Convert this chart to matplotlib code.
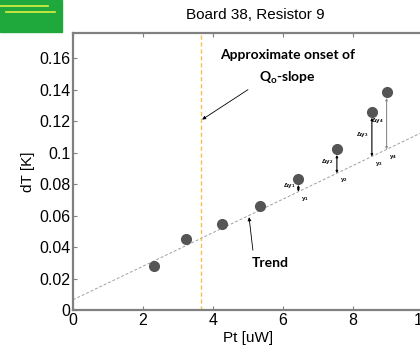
import matplotlib
matplotlib.use("Agg")
import matplotlib.pyplot as plt
from matplotlib.patches import Rectangle
from matplotlib.lines import Line2D

plt.rcParams["font.family"] = ["Liberation Sans", "DejaVu Sans"]
plt.rcParams["mathtext.default"] = "regular"

# measured points
pt = [2.31, 3.22, 4.26, 5.34, 6.44, 7.54, 8.54, 8.96]
dT = [0.028, 0.045, 0.0546, 0.0662, 0.083, 0.102, 0.1257, 0.1382]

# trend line end points
trend_x = [0, 10]
trend_y = [0.0065, 0.1131]

onset_x = 3.66

# the four points above trend that get delta arrows
dev_idx = [4, 5, 6, 7]
dev_labels = ["1", "2", "3", "4"]

fig = plt.figure(figsize=(4.2, 3.48), dpi=100)
ax = fig.add_axes([0.1738, 0.1092, 0.8333, 0.796])

def trend_at(x):
    return trend_y[0] + (trend_y[1] - trend_y[0]) * (x - trend_x[0]) / (trend_x[1] - trend_x[0])

ax.plot(trend_x, trend_y, color="#a0a0a0", lw=0.7, ls=(0, (3, 2)), zorder=1)
ax.axvline(onset_x, color="#f5c04a", lw=1.0, ls=(0, (3, 2)), zorder=1)
ax.plot(pt, dT, "o", color="#555555", ms=7, zorder=3)

for i, lab in zip(dev_idx, dev_labels):
    x = pt[i]
    col = "#8c8c8c" if lab == "4" else "black"
    ax.annotate("", xy=(x, trend_at(x)), xytext=(x, dT[i] - 0.0035),
                arrowprops=dict(arrowstyle="<|-|>", color=col, lw=0.8,
                                mutation_scale=3, shrinkA=0, shrinkB=0))
    ax.text(x - 0.1, (dT[i] + trend_at(x)) / 2, r"$\Delta$y$_{%s}$" % lab,
            fontsize=4.5, fontweight="bold", ha="right", va="center")
    ax.text(x + 0.08, trend_at(x) - 0.002, "y$_{%s}$" % lab,
            fontsize=4.5, fontweight="bold", ha="left", va="top")

ax.text(6.14, 0.162, "Approximate onset of", family=["Lato", "DejaVu Sans"],
        fontsize=10, fontweight="bold", ha="center", va="center")
ax.text(6.14, 0.1475, "Q$_o$-slope", family=["Lato", "DejaVu Sans"],
        fontsize=10, fontweight="bold", ha="center", va="center")
ax.annotate("", xy=(3.69, 0.121), xytext=(5.0, 0.14),
            arrowprops=dict(arrowstyle="-|>", color="black", lw=0.6,
                            mutation_scale=5, shrinkA=0, shrinkB=0))
ax.text(5.63, 0.030, "Trend", family=["Lato", "DejaVu Sans"],
        fontsize=10, fontweight="bold", ha="center", va="center")
ax.annotate("", xy=(5.03, 0.059), xytext=(5.14, 0.038),
            arrowprops=dict(arrowstyle="-|>", color="black", lw=0.6,
                            mutation_scale=5, shrinkA=0, shrinkB=0))

ax.set_xlim(0, 10)
ax.set_ylim(0, 0.176)
ax.set_xticks([0, 2, 4, 6, 8, 10])
ax.set_xticklabels(["0", "2", "4", "6", "8", "10"])
ax.set_yticks([0, 0.02, 0.04, 0.06, 0.08, 0.1, 0.12, 0.14, 0.16])
ax.set_yticklabels(["0", "0.02", "0.04", "0.06", "0.08", "0.1", "0.12", "0.14", "0.16"])
ax.tick_params(direction="in", length=3, width=0.8, color="#808080",
               labelsize=11.5, top=True, pad=2)
for s in ax.spines.values():
    s.set_color("#808080")
    s.set_linewidth(1.6)

ax.set_xlabel("Pt [uW]", fontsize=11, labelpad=2)
ax.set_ylabel("dT [K]", fontsize=11, labelpad=3)
fig.text(0.607, 1 - 15 / 348, "Board 38, Resistor 9", fontsize=11,
         ha="center", va="center")

# logo in the corner
fig.patches.append(Rectangle((0, 1 - 32 / 348), 62 / 420, 32 / 348,
                             transform=fig.transFigure, color="#1fa83c"))
fig.lines.append(Line2D([0, 48 / 420], [1 - 6 / 348] * 2, transform=fig.transFigure,
                        color="#dcf040", lw=1.2))
fig.lines.append(Line2D([6 / 420, 55 / 420], [1 - 11.5 / 348] * 2, transform=fig.transFigure,
                        color="#dcf040", lw=1.2))

fig.savefig("out.png", dpi=100)
